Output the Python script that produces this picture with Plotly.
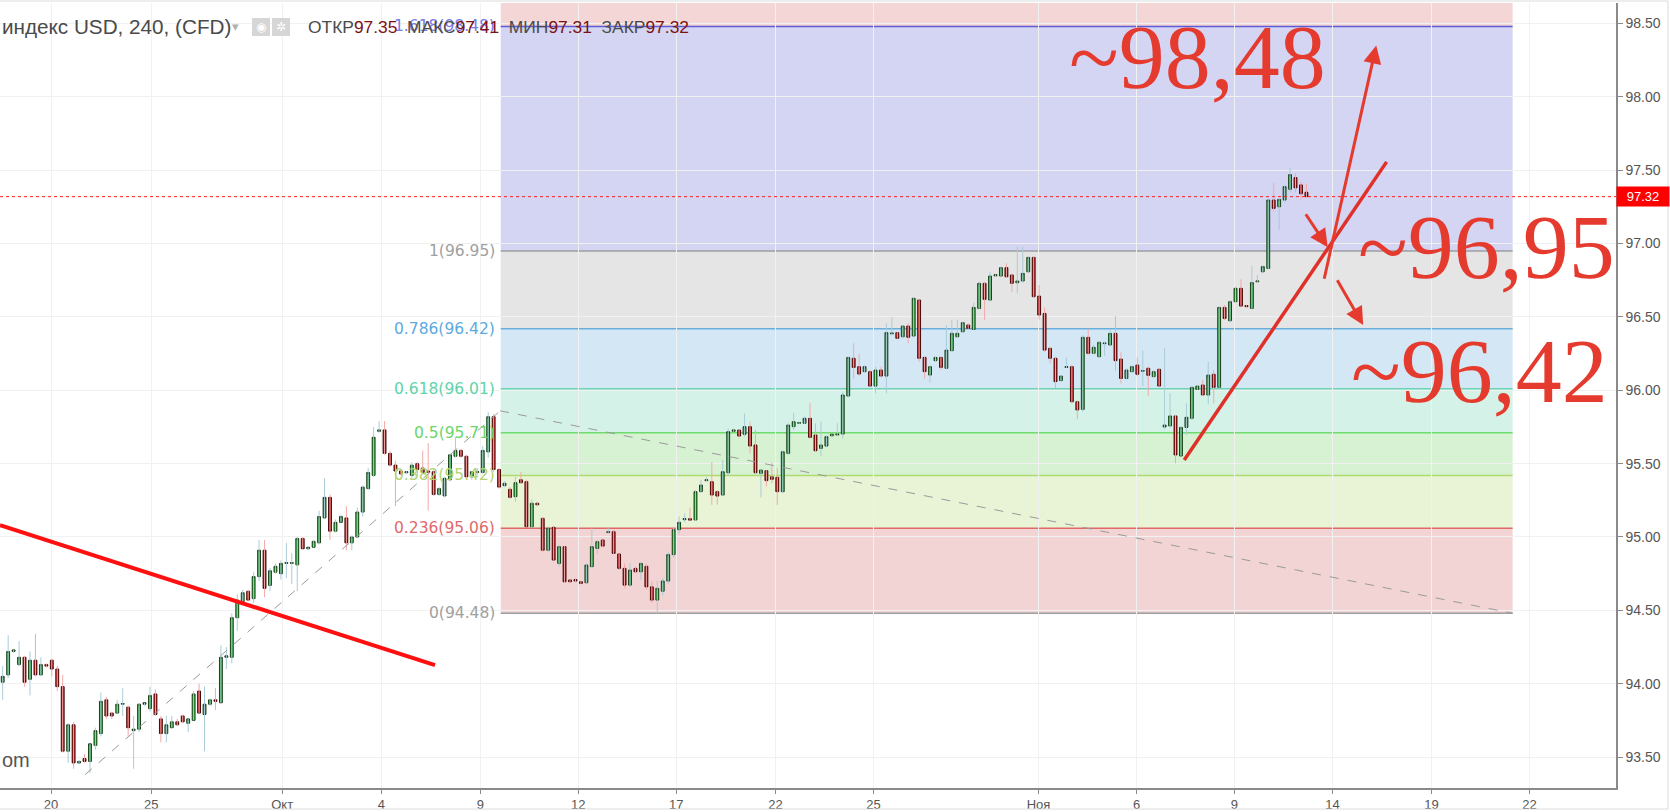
import plotly.graph_objects as go

# ---------------- data (240-min candles, index = candle number) ----------------
opens = [94.01, 94.06, 94.22, 94.13, 94.18, 94.03, 94.16, 94.06, 94.13, 94.16,
         94.10, 93.98, 93.54, 93.72, 93.46, 93.49, 93.47, 93.58, 93.66, 93.89,
         93.80, 93.80, 93.86, 93.84, 93.68, 93.69, 93.86, 93.83, 93.93, 93.76,
         93.66, 93.70, 93.74, 93.78, 93.73, 93.75, 93.95, 93.79, 93.86, 93.89,
         93.87, 94.18, 94.18, 94.45, 94.56, 94.63, 94.58, 94.73, 94.91, 94.67,
         94.76, 94.75, 94.82, 94.82, 94.81, 94.99, 94.92, 94.93, 94.96, 95.13,
         95.27, 95.04, 95.10, 95.13, 94.96, 95.00, 95.17, 95.33, 95.42, 95.72,
         95.73, 95.57, 95.49, 95.45, 95.438, 95.42, 95.50, 95.47, 95.45, 95.445,
         95.29, 95.28, 95.39, 95.55, 95.59, 95.55, 95.41, 95.44, 95.44, 95.58,
         95.82, 95.46, 95.35, 95.325, 95.275, 95.39, 95.377, 95.07, 95.23, 95.127,
         94.91, 95.066, 94.82, 94.934, 94.707, 94.71, 94.695, 94.688, 94.798, 94.922,
         94.979, 95.03, 95.036, 94.884, 94.786, 94.672, 94.786, 94.763, 94.80, 94.66,
         94.57, 94.63, 94.70, 94.88, 95.05, 95.118, 95.125, 95.116, 95.31, 95.384,
         95.377, 95.309, 95.286, 95.438, 95.72, 95.729, 95.70, 95.752, 95.627, 95.434,
         95.452, 95.41, 95.407, 95.309, 95.57, 95.752, 95.775, 95.775, 95.809, 95.695,
         95.604, 95.62, 95.69, 95.695, 95.702, 95.961, 96.218, 96.161, 96.127, 96.127,
         96.029, 96.138, 96.097, 96.385, 96.393, 96.365, 96.438, 96.37, 96.615, 96.224,
         96.104, 96.202, 96.224, 96.15, 96.27, 96.365, 96.399, 96.445, 96.415, 96.558,
         96.729, 96.615, 96.78, 96.779, 96.836, 96.786, 96.733, 96.745, 96.808, 96.906,
         96.642, 96.524, 96.286, 96.218, 96.066, 96.156, 96.161, 95.922, 95.87, 96.361,
         96.252, 96.229, 96.318, 96.309, 96.388, 96.213, 96.081, 96.127, 96.172, 96.13,
         96.15, 96.093, 96.143, 95.75, 95.757, 95.825, 95.552, 95.747, 95.809, 96.006,
         96.036, 95.968, 96.109, 96.02, 96.565, 96.474, 96.604, 96.695, 96.578, 96.558,
         96.74, 96.808, 96.831, 97.297, 97.251, 97.297, 97.37, 97.45, 97.40, 97.35]
highs = [94.12, 94.33, 94.23, 94.29, 94.19, 94.22, 94.34, 94.18, 94.14, 94.17,
         94.12, 94.06, 93.73, 93.74, 93.48, 93.52, 93.59, 93.70, 93.94, 93.91,
         93.81, 93.89, 93.97, 93.85, 93.78, 93.87, 93.87, 93.98, 93.96, 93.78,
         93.78, 93.78, 93.76, 93.79, 93.76, 93.95, 94.00, 93.98, 93.90, 93.97,
         94.26, 94.25, 94.48, 94.61, 94.64, 94.64, 94.76, 94.98, 94.98, 94.79,
         94.82, 94.84, 94.96, 94.89, 95.00, 95.00, 94.93, 94.98, 95.18, 95.40,
         95.29, 95.12, 95.15, 95.21, 95.01, 95.20, 95.35, 95.47, 95.75, 95.79,
         95.79, 95.59, 95.52, 95.46, 95.45, 95.51, 95.51, 95.59, 95.64, 95.46,
         95.34, 95.41, 95.57, 95.68, 95.60, 95.56, 95.45, 95.47, 95.62, 95.85,
         95.84, 95.47, 95.38, 95.34, 95.41, 95.445, 95.39, 95.256, 95.24, 95.134,
         95.07, 95.075, 94.945, 94.94, 94.71, 94.72, 94.70, 94.82, 95.06, 94.979,
         94.98, 95.06, 95.05, 94.888, 94.82, 94.82, 94.798, 94.83, 94.82, 94.70,
         94.70, 94.72, 94.90, 95.07, 95.14, 95.16, 95.20, 95.32, 95.39, 95.41,
         95.51, 95.32, 95.525, 95.74, 95.735, 95.735, 95.84, 95.786, 95.729, 95.46,
         95.456, 95.506, 95.47, 95.59, 95.775, 95.847, 95.786, 95.82, 95.915, 95.775,
         95.786, 95.695, 95.70, 95.775, 95.99, 96.23, 96.32, 96.25, 96.17, 96.138,
         96.16, 96.16, 96.457, 96.50, 96.40, 96.445, 96.457, 96.633, 96.62, 96.229,
         96.172, 96.233, 96.233, 96.445, 96.479, 96.483, 96.468, 96.457, 96.597, 96.74,
         96.74, 96.808, 96.79, 96.843, 96.865, 96.793, 96.979, 96.983, 96.91, 96.91,
         96.717, 96.565, 96.297, 96.229, 96.104, 96.224, 96.172, 95.93, 96.377, 96.415,
         96.309, 96.336, 96.331, 96.41, 96.506, 96.259, 96.15, 96.172, 96.224, 96.27,
         96.161, 96.138, 96.15, 96.286, 95.979, 95.832, 95.752, 95.911, 96.025, 96.036,
         96.07, 96.195, 96.138, 96.57, 96.581, 96.615, 96.706, 96.756, 96.581, 96.847,
         96.786, 96.854, 97.308, 97.415, 97.308, 97.40, 97.52, 97.48, 97.42, 97.41]
lows = [93.89, 94.04, 94.21, 94.12, 93.98, 93.92, 94.05, 94.05, 94.11, 94.05,
        93.95, 93.53, 93.46, 93.42, 93.46, 93.46, 93.39, 93.55, 93.64, 93.76,
        93.76, 93.80, 93.78, 93.64, 93.42, 93.67, 93.85, 93.81, 93.78, 93.60,
        93.60, 93.70, 93.71, 93.73, 93.67, 93.75, 93.80, 93.54, 93.85, 93.82,
        93.87, 94.10, 94.14, 94.36, 94.55, 94.56, 94.55, 94.70, 94.59, 94.63,
        94.75, 94.71, 94.72, 94.68, 94.63, 94.92, 94.91, 94.93, 94.95, 95.13,
        94.98, 95.03, 95.10, 94.91, 94.91, 94.99, 95.14, 95.32, 95.41, 95.71,
        95.56, 95.48, 95.21, 95.42, 95.43, 95.40, 95.41, 95.43, 95.18, 95.28,
        95.28, 95.27, 95.38, 95.54, 95.54, 95.40, 95.39, 95.42, 95.43, 95.54,
        95.445, 95.33, 95.34, 95.26, 95.24, 95.366, 95.066, 95.06, 95.21, 94.90,
        94.90, 94.84, 94.80, 94.688, 94.69, 94.69, 94.675, 94.684, 94.79, 94.884,
        94.93, 95.025, 94.884, 94.775, 94.65, 94.66, 94.757, 94.707, 94.64, 94.55,
        94.48, 94.60, 94.68, 94.86, 95.02, 95.10, 95.11, 95.11, 95.30, 95.38,
        95.22, 95.22, 95.28, 95.42, 95.715, 95.68, 95.684, 95.57, 95.434, 95.27,
        95.343, 95.366, 95.218, 95.30, 95.56, 95.729, 95.77, 95.77, 95.672, 95.581,
        95.552, 95.615, 95.685, 95.688, 95.672, 95.957, 96.08, 96.10, 96.12, 96.025,
        95.979, 96.09, 95.979, 96.38, 96.35, 96.354, 96.32, 96.365, 96.195, 96.08,
        96.052, 96.195, 96.138, 96.143, 96.263, 96.361, 96.393, 96.415, 96.411, 96.551,
        96.48, 96.61, 96.775, 96.774, 96.77, 96.672, 96.66, 96.733, 96.802, 96.633,
        96.483, 96.263, 96.183, 96.013, 96.059, 96.15, 95.91, 95.802, 95.853, 96.24,
        96.248, 96.225, 96.236, 96.298, 96.134, 96.047, 96.075, 96.12, 96.098, 96.029,
        95.961, 96.088, 96.025, 95.734, 95.747, 95.502, 95.548, 95.695, 95.797, 96.002,
        95.961, 95.906, 95.911, 96.013, 96.479, 96.467, 96.597, 96.57, 96.567, 96.552,
        96.738, 96.801, 96.825, 97.217, 97.092, 97.28, 97.35, 97.35, 97.30, 97.31]
closes = [94.05, 94.22, 94.23, 94.18, 94.01, 94.16, 94.06, 94.13, 94.12, 94.10,
          93.98, 93.54, 93.72, 93.46, 93.47, 93.47, 93.59, 93.68, 93.88, 93.78,
          93.78, 93.86, 93.865, 93.70, 93.69, 93.86, 93.87, 93.92, 93.79, 93.66,
          93.72, 93.74, 93.72, 93.74, 93.76, 93.93, 93.80, 93.86, 93.89, 93.88,
          94.18, 94.19, 94.45, 94.57, 94.62, 94.57, 94.73, 94.91, 94.65, 94.77,
          94.80, 94.82, 94.825, 94.825, 94.99, 94.92, 94.93, 94.97, 95.14, 95.27,
          95.04, 95.10, 95.14, 94.96, 95.00, 95.17, 95.34, 95.44, 95.68, 95.73,
          95.57, 95.49, 95.45, 95.43, 95.445, 95.49, 95.46, 95.44, 95.44, 95.29,
          95.33, 95.40, 95.56, 95.59, 95.55, 95.41, 95.445, 95.445, 95.59, 95.82,
          95.46, 95.34, 95.366, 95.27, 95.37, 95.37, 95.07, 95.23, 95.22, 94.91,
          95.06, 94.843, 94.934, 94.695, 94.695, 94.70, 94.684, 94.809, 94.934, 94.968,
          94.938, 95.036, 94.888, 94.786, 94.672, 94.775, 94.763, 94.82, 94.66, 94.57,
          94.65, 94.70, 94.88, 95.05, 95.10, 95.125, 95.115, 95.309, 95.354, 95.39,
          95.286, 95.279, 95.445, 95.718, 95.73, 95.688, 95.752, 95.62, 95.438, 95.456,
          95.384, 95.393, 95.309, 95.581, 95.763, 95.786, 95.78, 95.809, 95.679, 95.588,
          95.627, 95.684, 95.70, 95.702, 95.968, 96.224, 96.156, 96.111, 96.161, 96.029,
          96.138, 96.097, 96.393, 96.39, 96.354, 96.438, 96.361, 96.627, 96.218, 96.127,
          96.161, 96.224, 96.156, 96.274, 96.388, 96.388, 96.461, 96.422, 96.565, 96.729,
          96.62, 96.779, 96.788, 96.836, 96.774, 96.729, 96.745, 96.797, 96.906, 96.638,
          96.513, 96.274, 96.218, 96.059, 96.097, 96.161, 95.922, 95.866, 96.361, 96.252,
          96.293, 96.327, 96.322, 96.388, 96.202, 96.081, 96.138, 96.161, 96.109, 96.134,
          96.102, 96.127, 96.029, 95.763, 95.825, 95.559, 95.747, 95.816, 96.02, 96.029,
          95.968, 96.104, 96.02, 96.565, 96.49, 96.604, 96.695, 96.574, 96.57, 96.734,
          96.745, 96.843, 97.297, 97.24, 97.301, 97.388, 97.47, 97.38, 97.34, 97.32]

x_tick_pos = [8.87, 27.22, 51.24, 69.40, 87.57, 105.52, 123.48, 141.65, 159.62,
              189.88, 207.85, 225.81, 243.76, 261.93, 279.89]
x_tick_text = ["20", "25", "Окт", "4", "9", "12", "17", "22", "25",
               "Ноя", "6", "9", "14", "19", "22"]

# Fibonacci retracement
fib_ratios = ["0", "0.236", "0.382", "0.5", "0.618", "0.786", "1", "1.618"]
fib_levels = [94.48, 95.06, 95.42, 95.71, 96.01, 96.42, 96.95, 98.48]
fib_top = 99.5
fib_x = [91.3, 276.8]

last_close = 97.32
hdr_title = "индекс USD, 240, (CFD)"
hdr_names = ["ОТКР", "МАКС", "МИН", "ЗАКР"]
hdr_values = ["97.35", "97.41", "97.31", "97.32"]

# drawn lines (index, price)
dash_line_1 = [(15.1, 93.38), (91.2, 95.86)]
dash_line_2 = [(91.2, 95.86), (276.8, 94.48)]
red_line_left = [(-0.5, 95.08), (79.25, 94.127)]
red_line_right = [(216.6, 95.525), (253.7, 97.557)]
arrows = [((242.2, 96.75), (251.8, 98.35)),
          ((238.7, 97.21), (242.9, 96.975)),
          ((244.5, 96.76), (249.4, 96.445))]
big_labels = [("~98,48", 219.1, 98.27), ("~96,95", 272.1, 96.98), ("~96,42", 270.8, 96.13)]

# ---------------- styling ----------------
X_RANGE = [-0.495, 295.75]
Y_RANGE = [93.289, 98.64]
band_fill = ["#f3d4d4", "#e9f3d5", "#d7f2d2", "#d5f2e8", "#d4e7f4", "#e5e5e5", "#d4d4f3"]
top_fill = "#f5d6d6"
line_col = ["#9e9e9e", "#e06a6a", "#aedb70", "#6ddc6d", "#6cd3b3", "#6aaedc", "#9e9e9e", "#5c5cd6"]
label_col = ["#a0a0a0", "#e06a6a", "#b0d56f", "#6ad66a", "#5fd3aa", "#5daadd", "#a0a0a0", "#7a7ae6"]
RED = "#e53b2f"

n = len(opens)
idx = list(range(n))

fig = go.Figure()

# wicks
up_x, up_y, dn_x, dn_y = [], [], [], []
for i in idx:
    if closes[i] >= opens[i]:
        up_x += [i, i, None]
        up_y += [lows[i], highs[i], None]
    else:
        dn_x += [i, i, None]
        dn_y += [lows[i], highs[i], None]
fig.add_trace(go.Scatter(x=up_x, y=up_y, mode="lines", line=dict(color="#a9ccd8", width=1),
                         hoverinfo="skip", showlegend=False))
fig.add_trace(go.Scatter(x=dn_x, y=dn_y, mode="lines", line=dict(color="#f3a9a9", width=1),
                         hoverinfo="skip", showlegend=False))

# bodies
body_hi = [max(o, c) for o, c in zip(opens, closes)]
body_lo = [min(o, c) for o, c in zip(opens, closes)]
fig.add_trace(go.Candlestick(
    x=idx, open=opens, high=body_hi, low=body_lo, close=closes,
    increasing=dict(line=dict(color="#1c401c", width=1), fillcolor="#1fa326"),
    decreasing=dict(line=dict(color="#4a0a0a", width=1), fillcolor="#b01010"),
    whiskerwidth=0, showlegend=False, hoverinfo="skip"))

shapes = []
# fib bands
for k in range(len(fib_levels) - 1):
    shapes.append(dict(type="rect", xref="x", yref="y", x0=fib_x[0], x1=fib_x[1],
                       y0=fib_levels[k], y1=fib_levels[k + 1], fillcolor=band_fill[k],
                       line=dict(width=0), layer="below"))
shapes.append(dict(type="rect", xref="x", yref="y", x0=fib_x[0], x1=fib_x[1],
                   y0=fib_levels[-1], y1=fib_top, fillcolor=top_fill, line=dict(width=0), layer="below"))
for k, lv in enumerate(fib_levels):
    shapes.append(dict(type="line", xref="x", yref="y", x0=fib_x[0], x1=fib_x[1], y0=lv, y1=lv,
                       line=dict(color=line_col[k], width=1.5), layer="below"))

# dashed trend lines
for seg in (dash_line_1, dash_line_2):
    shapes.append(dict(type="line", xref="x", yref="y", x0=seg[0][0], y0=seg[0][1],
                       x1=seg[1][0], y1=seg[1][1], line=dict(color="#9a9a9a", width=1, dash="dash")))
# red lines
shapes.append(dict(type="line", xref="x", yref="y", x0=red_line_left[0][0], y0=red_line_left[0][1],
                   x1=red_line_left[1][0], y1=red_line_left[1][1], line=dict(color="#ff1010", width=4)))
shapes.append(dict(type="line", xref="x", yref="y", x0=red_line_right[0][0], y0=red_line_right[0][1],
                   x1=red_line_right[1][0], y1=red_line_right[1][1], line=dict(color="#e0302a", width=3.5)))
# last price line
shapes.append(dict(type="line", xref="x", yref="y", x0=X_RANGE[0], x1=X_RANGE[1], y0=last_close, y1=last_close,
                   line=dict(color="#ff2020", width=1, dash="dot")))
# header icons
PW, PH, PB = 1616.0, 785.0, 788.0
def px_x(p):
    return p / PW
def px_y(p):
    return (PB - p) / PH
for x0 in (252, 272):
    shapes.append(dict(type="rect", xref="paper", yref="paper", x0=px_x(x0), x1=px_x(x0 + 18),
                       y0=px_y(36), y1=px_y(18), fillcolor="#d6d6d6", line=dict(width=0)))
# outer frame
shapes.append(dict(type="rect", xref="paper", yref="paper", x0=px_x(-2), x1=px_x(1668),
                   y0=px_y(809), y1=px_y(1), line=dict(color="#dcdcdc", width=1)))

annotations = []
for k, lv in enumerate(fib_levels):
    annotations.append(dict(x=fib_x[0], y=lv, xref="x", yref="y", xanchor="right", yanchor="middle",
                            xshift=-4, showarrow=False, text=f"{fib_ratios[k]}({lv:.2f})",
                            font=dict(family="DejaVu Sans", size=15.5, color=label_col[k])))
# header
annotations.append(dict(x=0, y=px_y(27), xref="paper", yref="paper", xanchor="left", yanchor="middle",
                        showarrow=False, text=hdr_title,
                        font=dict(family="Liberation Sans", size=20.7, color="#4a4a4a")))
annotations.append(dict(x=px_x(236), y=px_y(27), xref="paper", yref="paper", xanchor="center", yanchor="middle",
                        showarrow=False, text="▾", font=dict(family="DejaVu Sans", size=13, color="#b0b0b0")))
for x0, sym in ((261, "◉"), (281, "✲")):
    annotations.append(dict(x=px_x(x0), y=px_y(27), xref="paper", yref="paper", xanchor="center",
                            yanchor="middle", showarrow=False, text=sym,
                            font=dict(family="DejaVu Sans", size=12, color="#ffffff")))
ohlc_txt = "  ".join(f"{nm}<span style='color:#7b1212'>{vl}</span>" for nm, vl in zip(hdr_names, hdr_values))
annotations.append(dict(x=px_x(306), y=px_y(27), xref="paper", yref="paper", xanchor="left", yanchor="middle",
                        showarrow=False, text=ohlc_txt,
                        font=dict(family="Liberation Sans", size=17.4, color="#4a4a4a")))
annotations.append(dict(x=0, y=px_y(760), xref="paper", yref="paper", xanchor="left", yanchor="middle",
                        showarrow=False, text="om", font=dict(family="Liberation Sans", size=20, color="#555555")))
# last price label
annotations.append(dict(x=1, y=last_close, xref="paper", yref="y", xanchor="left", yanchor="middle",
                        showarrow=False, text=f"{last_close:.2f}", bgcolor="#ff0000", borderpad=2,
                        width=48, align="center",
                        font=dict(family="Liberation Sans", size=13, color="#ffffff")))
# arrows
for (tail, tip) in arrows:
    annotations.append(dict(x=tip[0], y=tip[1], ax=tail[0], ay=tail[1], xref="x", yref="y",
                            axref="x", ayref="y", text="", showarrow=True, arrowhead=2,
                            arrowsize=1.2, arrowwidth=3, arrowcolor=RED))
# big hand-written labels
for txt, xv, yv in big_labels:
    annotations.append(dict(x=xv, y=yv, xref="x", yref="y", xanchor="center", yanchor="middle",
                            showarrow=False, text=txt,
                            font=dict(family="Liberation Serif", size=92, color=RED)))

fig.update_layout(
    width=1670, height=812,
    margin=dict(l=0, r=54, t=3, b=24),
    paper_bgcolor="#ffffff", plot_bgcolor="#ffffff",
    showlegend=False, boxgap=0.25,
    shapes=shapes, annotations=annotations,
    xaxis=dict(range=X_RANGE, tickvals=x_tick_pos, ticktext=x_tick_text, showgrid=True,
               gridcolor="#f1f1f1", gridwidth=1, ticks="outside", ticklen=4, tickcolor="#8a8a8a",
               showline=True, linecolor="#8a8a8a", linewidth=1.5, zeroline=False,
               tickfont=dict(family="Liberation Sans", size=13, color="#555555"),
               rangeslider=dict(visible=False)),
    yaxis=dict(range=Y_RANGE, side="right", tick0=93.5, dtick=0.5, tickformat=".2f", showgrid=True,
               gridcolor="#f1f1f1", gridwidth=1, ticks="outside", ticklen=5, tickcolor="#8a8a8a",
               showline=True, linecolor="#8a8a8a", linewidth=1.5, zeroline=False,
               tickfont=dict(family="Liberation Sans", size=14, color="#555555")),
)

fig.write_html("out.html", config={"displayModeBar": False},
               post_script="document.body.style.margin='0px';document.body.style.overflow='hidden';")
